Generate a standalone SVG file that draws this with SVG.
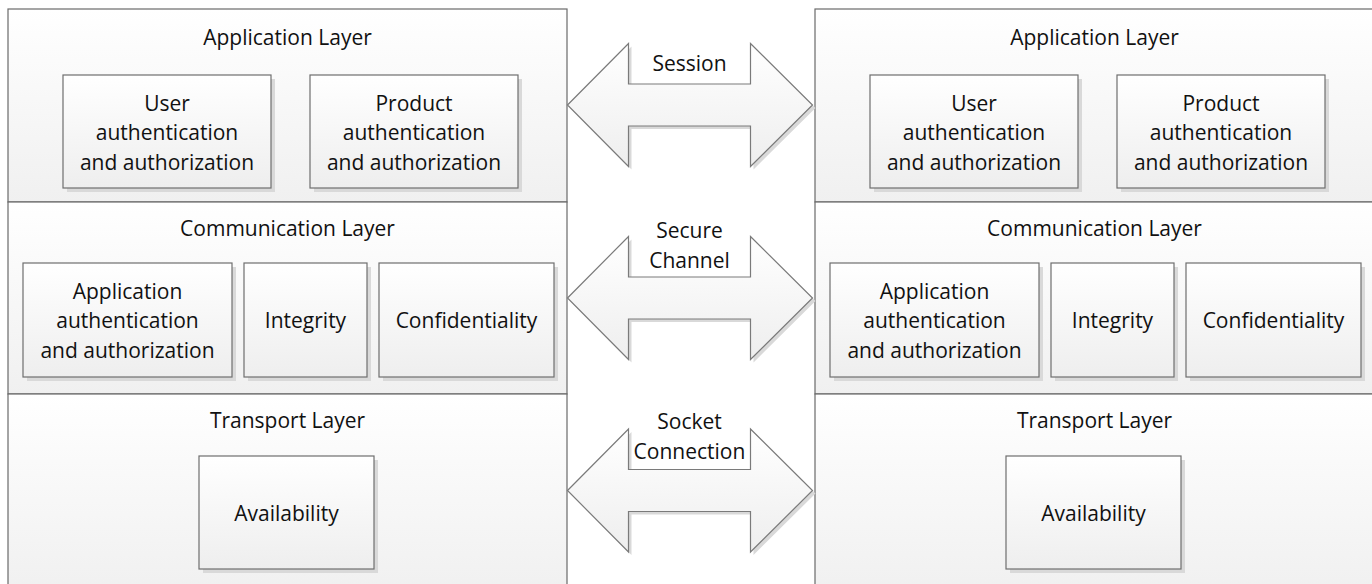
<svg xmlns="http://www.w3.org/2000/svg" width="1372" height="584" viewBox="0 0 1372 584">
<defs>
<linearGradient id="gLayer" x1="0" y1="0" x2="0" y2="1"><stop offset="0" stop-color="#ffffff"/><stop offset="1" stop-color="#f0f0f0"/></linearGradient>
<linearGradient id="gBox" x1="0" y1="0" x2="0" y2="1"><stop offset="0" stop-color="#ffffff"/><stop offset="1" stop-color="#eeeeee"/></linearGradient>
<path id="arrowShape" d="M567.5,0 L628.5,-61.5 L628.5,-21 L750.5,-21 L750.5,-61.5 L812.5,0 L750.5,61.5 L750.5,21 L628.5,21 L628.5,61.5 Z"/>
</defs>
<style>
.layer{fill:url(#gLayer);stroke:#6a6a6a;stroke-width:1.2}
.box{fill:url(#gBox);stroke:#6e6e6e;stroke-width:1.2}
.shadow{fill:#d9d9d9;stroke:none}
.arrow{fill:url(#gBox);stroke:#7a7a7a;stroke-width:1.2}
text{font-family:"Open Sans","Noto Sans","Liberation Sans",sans-serif;font-size:21px;fill:#111111;text-anchor:middle}
</style>
<rect width="1372" height="584" fill="#ffffff"/>

<!-- Left stack -->
<g id="left-application-layer">
<rect class="layer" x="8" y="9" width="559" height="193"/>
<text x="287.5" y="45">Application Layer</text>
</g>
<g id="left-communication-layer">
<rect class="layer" x="8" y="202" width="559" height="192"/>
<text x="287.5" y="236">Communication Layer</text>
</g>
<g id="left-transport-layer">
<rect class="layer" x="8" y="394" width="559" height="200"/>
<text x="287.5" y="428">Transport Layer</text>
</g>
<g id="left-user-auth">
<rect class="shadow" x="67" y="79" width="208" height="113"/>
<rect class="box" x="63" y="75" width="208" height="113"/>
<text x="167" y="110.5">User</text><text x="167" y="140">authentication</text><text x="167" y="169.5">and authorization</text>
</g>
<g id="left-product-auth">
<rect class="shadow" x="314" y="79" width="208" height="113"/>
<rect class="box" x="310" y="75" width="208" height="113"/>
<text x="414" y="110.5">Product</text><text x="414" y="140">authentication</text><text x="414" y="169.5">and authorization</text>
</g>
<g id="left-app-auth">
<rect class="shadow" x="27" y="267" width="209" height="114"/>
<rect class="box" x="23" y="263" width="209" height="114"/>
<text x="127.5" y="298.5">Application</text><text x="127.5" y="328">authentication</text><text x="127.5" y="357.5">and authorization</text>
</g>
<g id="left-integrity">
<rect class="shadow" x="248" y="267" width="123" height="114"/>
<rect class="box" x="244" y="263" width="123" height="114"/>
<text x="305.5" y="328">Integrity</text>
</g>
<g id="left-confidentiality">
<rect class="shadow" x="383" y="267" width="175" height="114"/>
<rect class="box" x="379" y="263" width="175" height="114"/>
<text x="466.5" y="328">Confidentiality</text>
</g>
<g id="left-availability">
<rect class="shadow" x="203" y="460" width="175" height="113"/>
<rect class="box" x="199" y="456" width="175" height="113"/>
<text x="286.5" y="520.5">Availability</text>
</g>

<!-- Right stack -->
<g id="right-application-layer">
<rect class="layer" x="815" y="9" width="559" height="193"/>
<text x="1094.5" y="45">Application Layer</text>
</g>
<g id="right-communication-layer">
<rect class="layer" x="815" y="202" width="559" height="192"/>
<text x="1094.5" y="236">Communication Layer</text>
</g>
<g id="right-transport-layer">
<rect class="layer" x="815" y="394" width="559" height="200"/>
<text x="1094.5" y="428">Transport Layer</text>
</g>
<g id="right-user-auth">
<rect class="shadow" x="874" y="79" width="208" height="113"/>
<rect class="box" x="870" y="75" width="208" height="113"/>
<text x="974" y="110.5">User</text><text x="974" y="140">authentication</text><text x="974" y="169.5">and authorization</text>
</g>
<g id="right-product-auth">
<rect class="shadow" x="1121" y="79" width="208" height="113"/>
<rect class="box" x="1117" y="75" width="208" height="113"/>
<text x="1221" y="110.5">Product</text><text x="1221" y="140">authentication</text><text x="1221" y="169.5">and authorization</text>
</g>
<g id="right-app-auth">
<rect class="shadow" x="834" y="267" width="209" height="114"/>
<rect class="box" x="830" y="263" width="209" height="114"/>
<text x="934.5" y="298.5">Application</text><text x="934.5" y="328">authentication</text><text x="934.5" y="357.5">and authorization</text>
</g>
<g id="right-integrity">
<rect class="shadow" x="1055" y="267" width="123" height="114"/>
<rect class="box" x="1051" y="263" width="123" height="114"/>
<text x="1112.5" y="328">Integrity</text>
</g>
<g id="right-confidentiality">
<rect class="shadow" x="1190" y="267" width="175" height="114"/>
<rect class="box" x="1186" y="263" width="175" height="114"/>
<text x="1273.5" y="328">Confidentiality</text>
</g>
<g id="right-availability">
<rect class="shadow" x="1010" y="460" width="175" height="113"/>
<rect class="box" x="1006" y="456" width="175" height="113"/>
<text x="1093.5" y="520.5">Availability</text>
</g>

<!-- Connectors -->
<g id="connectors">
<g id="session-arrow">
<use href="#arrowShape" class="shadow" transform="translate(3,108)"/>
<use href="#arrowShape" class="arrow" transform="translate(0,105)"/>
<text x="689.5" y="71">Session</text>
</g>
<g id="secure-channel-arrow">
<use href="#arrowShape" class="shadow" transform="translate(3,301)"/>
<use href="#arrowShape" class="arrow" transform="translate(0,298)"/>
<text x="689.5" y="238">Secure</text><text x="689.5" y="268">Channel</text>
</g>
<g id="socket-connection-arrow">
<use href="#arrowShape" class="shadow" transform="translate(3,493.5)"/>
<use href="#arrowShape" class="arrow" transform="translate(0,490.5)"/>
<text x="689.5" y="429">Socket</text><text x="689.5" y="459">Connection</text>
</g>
</g>
</svg>
